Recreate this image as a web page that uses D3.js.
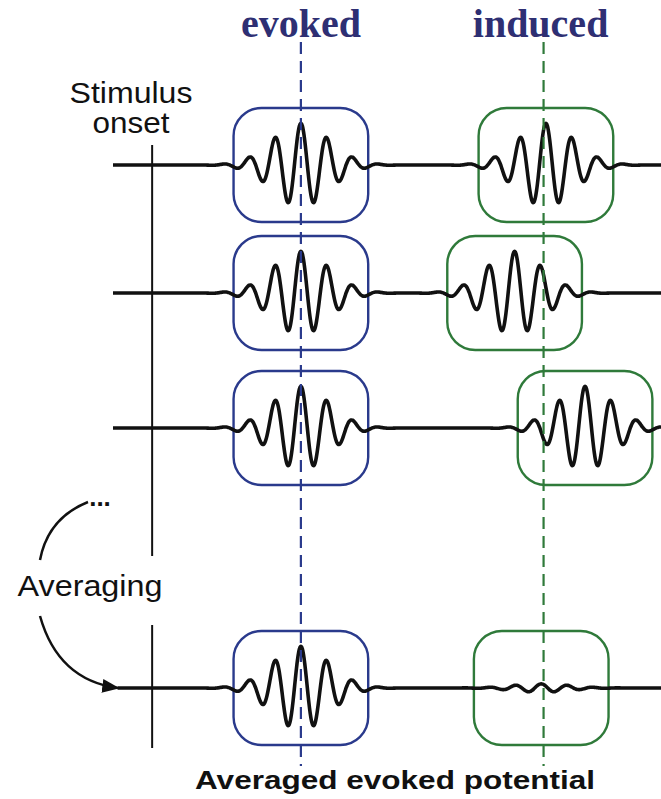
<!DOCTYPE html>
<html><head><meta charset="utf-8">
<script src="https://cdn.jsdelivr.net/npm/d3@7"></script>
<style>body{margin:0;background:#fff}</style>
</head><body>
<div id="chart"></div>
<script>
var width = 661, height = 799;

// trials (rows) and latencies in ms relative to stimulus onset
var rows = ["trial 1", "trial 2", "trial 3", "average"];
var evokedLatency = [190, 190, 190, 190];
var inducedLatency = [503, 463, 553, 497];
var evokedAmp = [1, 1, 1, 1];
var inducedAmp = [1, 1, 1, 0.1];
var evokedLine = 190, inducedLine = 500;

var blue = "#2a3a8c", green = "#2f7a3a";

var x = d3.scaleLinear().domain([-50, 650]).range([113, 661]);
var rowY = {"trial 1": 165, "trial 2": 293, "trial 3": 428, "average": 688};
var amp = d3.scaleLinear().domain([0, 1]).range([0, 42]);

var svg = d3.select("#chart").append("svg")
    .attr("width", width).attr("height", height);

svg.append("defs").append("marker")
    .attr("id", "arr").attr("viewBox", "0 0 10 10")
    .attr("refX", 9).attr("refY", 5)
    .attr("markerWidth", 7).attr("markerHeight", 7)
    .attr("orient", "auto")
  .append("path").attr("d", "M0,1L10,5L0,9Z").attr("fill", "#111");

// stimulus onset line
svg.append("line").attr("x1", x(0)).attr("x2", x(0)).attr("y1", 145).attr("y2", 556)
    .attr("stroke", "#111").attr("stroke-width", 2);
svg.append("line").attr("x1", x(0)).attr("x2", x(0)).attr("y1", 625).attr("y2", 748)
    .attr("stroke", "#111").attr("stroke-width", 2);

var period = 33, sigma = 36;
function wave(t, c, a) {
    var d = t - c;
    return a * Math.exp(-d * d / (2 * sigma * sigma)) * Math.cos(2 * Math.PI * d / period);
}

var line = d3.line().curve(d3.curveBasis);

rows.forEach(function(r, i) {
    var yy = rowY[r];
    [[evokedLatency[i], blue], [inducedLatency[i], green]].forEach(function(b) {
        svg.append("rect")
            .attr("x", x(b[0] - 86)).attr("width", x(b[0] + 86) - x(b[0] - 86))
            .attr("y", yy - 57).attr("height", 114)
            .attr("rx", 28).attr("fill", "none")
            .attr("stroke", b[1]).attr("stroke-width", 2.4);
    });
    var t0 = i === 3 ? -44 : -50;
    var pts = d3.range(t0, 651, 1).map(function(t) {
        var v = wave(t, evokedLatency[i], evokedAmp[i]) + wave(t, inducedLatency[i], inducedAmp[i]);
        return [x(t), yy - amp(v)];
    });
    svg.append("path").attr("d", line(pts)).attr("fill", "none")
        .attr("stroke", "#111").attr("stroke-width", 3.6).attr("stroke-linejoin", "round");
});

// dashed latency lines
[[evokedLine, blue], [inducedLine, green]].forEach(function(d) {
    svg.append("line").attr("x1", x(d[0])).attr("x2", x(d[0]))
        .attr("y1", 42).attr("y2", 766)
        .attr("stroke", d[1]).attr("stroke-width", 2.2)
        .attr("stroke-dasharray", "12,7");
});

var serif = "Liberation Serif, serif";
svg.append("text").attr("x", x(evokedLine)).attr("y", 37).attr("text-anchor", "middle")
    .attr("font-family", serif).attr("font-weight", "bold")
    .attr("font-size", 40).attr("fill", "#2e2f73").text("evoked");
svg.append("text").attr("x", x(inducedLine) - 3).attr("y", 37).attr("text-anchor", "middle")
    .attr("font-family", serif).attr("font-weight", "bold")
    .attr("font-size", 40).attr("fill", "#2e2f73").text("induced");

var sans = "Liberation Sans, Arial, sans-serif";
function label(t, px, py, size, w, bold) {
    svg.append("text").attr("x", px - w / 2).attr("y", py)
        .attr("font-family", sans).attr("font-size", size)
        .attr("font-weight", bold ? "bold" : "normal").attr("fill", "#111")
        .attr("textLength", w).attr("lengthAdjust", "spacingAndGlyphs").text(t);
}
label("Stimulus", 131, 103, 29, 123);
label("onset", 131, 133, 29, 77);
label("Averaging", 90, 596, 29, 145);
label("Averaged evoked potential", 395, 789, 25, 400, true);
svg.append("text").attr("x", 100).attr("y", 506).attr("text-anchor", "middle")
    .attr("font-family", sans).attr("font-size", 26).attr("font-weight", "bold").attr("fill", "#111").text("...");

// averaging arrows
svg.append("path").attr("d", "M88,502 Q48,518 40,560").attr("fill", "none")
    .attr("stroke", "#111").attr("stroke-width", 2.5);
svg.append("path").attr("d", "M40,616 Q58,680 118,688").attr("fill", "none")
    .attr("stroke", "#111").attr("stroke-width", 2.5).attr("marker-end", "url(#arr)");
</script>
</body></html>
